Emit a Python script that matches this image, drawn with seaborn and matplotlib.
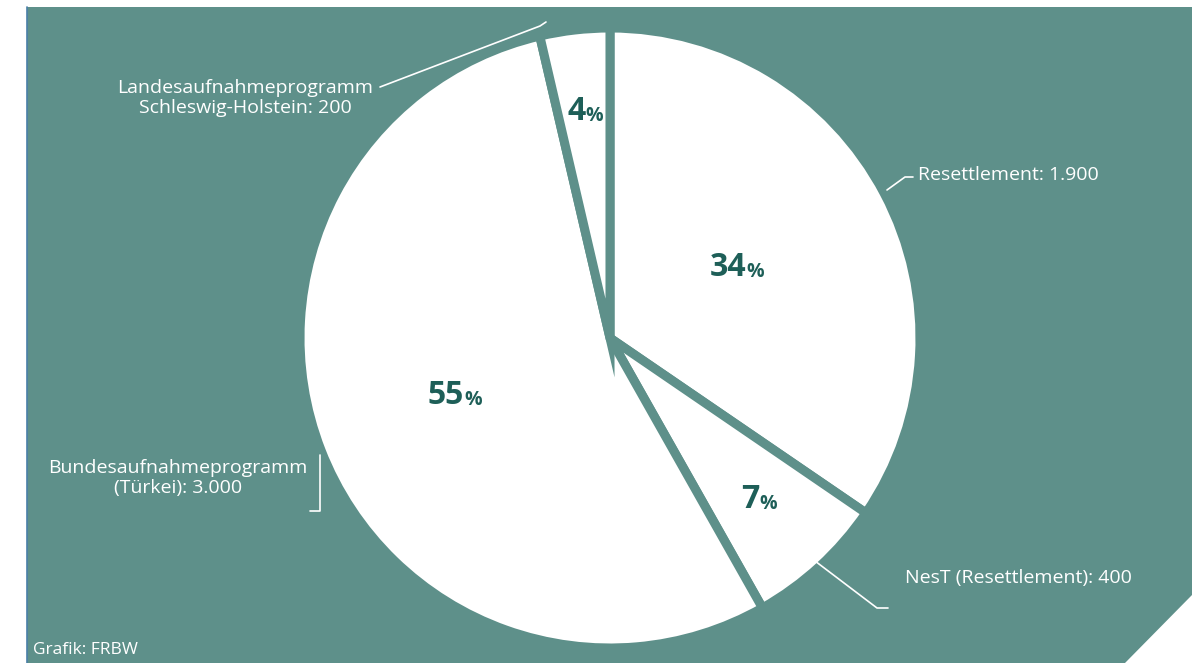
import matplotlib
matplotlib.use("Agg")
import matplotlib.pyplot as plt
import seaborn as sns
import numpy as np
from matplotlib.patches import Polygon
from matplotlib.lines import Line2D

categories = ["Resettlement", "NesT (Resettlement)", "Bundesaufnahmeprogramm\n(Türkei)",
              "Landesaufnahmeprogramm\nSchleswig-Holstein"]
values = [1900, 400, 3000, 200]
value_labels = ["1.900", "400", "3.000", "200"]
pct_labels = ["34", "7", "55", "4"]

sns.set_theme(style="white")
plt.rcParams['font.family'] = ['Open Sans', 'DejaVu Sans']

W, H = 1192, 663
TEAL = "#5e908a"
DARK = "#1e5f58"
fig = plt.figure(figsize=(W / 100, H / 100), dpi=100)
fig.patch.set_facecolor("white")

def fp(px, py):
    return (px / W, 1 - py / H)

# background panel
panel = Polygon([fp(27, 7), fp(W, 7), fp(W, 595), fp(1125, H), fp(27, H)],
                closed=True, transform=fig.transFigure, facecolor=TEAL,
                edgecolor="none", zorder=-5)
fig.patches.append(panel)
fig.add_artist(Line2D([27 / W, 27 / W], [0, 1 - 7 / H], color="#4a7fa8", lw=1.2, zorder=-4))

cx, cy, R = 610, 338, 310
ax = fig.add_axes([(cx - R) / W, 1 - (cy + R) / H, 2 * R / W, 2 * R / H])
ax.set_zorder(2)
ax.set_facecolor("none")
palette = ["white"] * len(values)
wedges, _ = ax.pie(values, startangle=90, counterclock=False, colors=palette,
                   wedgeprops=dict(edgecolor=TEAL, linewidth=6.5))
ax.set_xlim(-1.0, 1.0)
ax.set_ylim(-1.0, 1.0)
ax.set_aspect("equal")
ax.axis("off")

label_r = [0.49, 0.705, 0.51, 0.735]
for w, p, r in zip(wedges, pct_labels, label_r):
    ang = np.deg2rad((w.theta1 + w.theta2) / 2)
    x, y = r * np.cos(ang), r * np.sin(ang)
    ax.text(x + 0.005, y, p, ha="right", va="center", fontsize=23,
            fontweight="bold", color=DARK)
    ax.text(x + 0.005, y - 0.015, "%", ha="left", va="center", fontsize=14,
            fontweight="bold", color=DARK)

tkw = dict(color="white", fontsize=14, transform=fig.transFigure, linespacing=1.2)
fig.text(*fp(918, 175), f"{categories[0]}: {value_labels[0]}", ha="left", va="center", **tkw)
fig.text(*fp(905, 578), f"{categories[1]}: {value_labels[1]}", ha="left", va="center", **tkw)
fig.text(*fp(178, 478), f"{categories[2]}: {value_labels[2]}", ha="center", va="center", **tkw)
fig.text(*fp(245, 98), f"{categories[3]}: {value_labels[3]}", ha="center", va="center", **tkw)
fig.text(*fp(33, 650), "Grafik: FRBW", ha="left", va="center", color="white",
         fontsize=12.5)

def line(pts):
    xs = [p[0] / W for p in pts]
    ys = [1 - p[1] / H for p in pts]
    fig.add_artist(Line2D(xs, ys, color="white", lw=1.2, zorder=5))

line([(380, 87), (540, 26), (546, 22)])
line([(887, 190), (905, 177), (913, 177)])
line([(310, 511), (320, 511), (320, 455)])
line([(815, 561), (877, 608), (888, 608)])

fig.savefig("out.png", dpi=100, facecolor="white")
